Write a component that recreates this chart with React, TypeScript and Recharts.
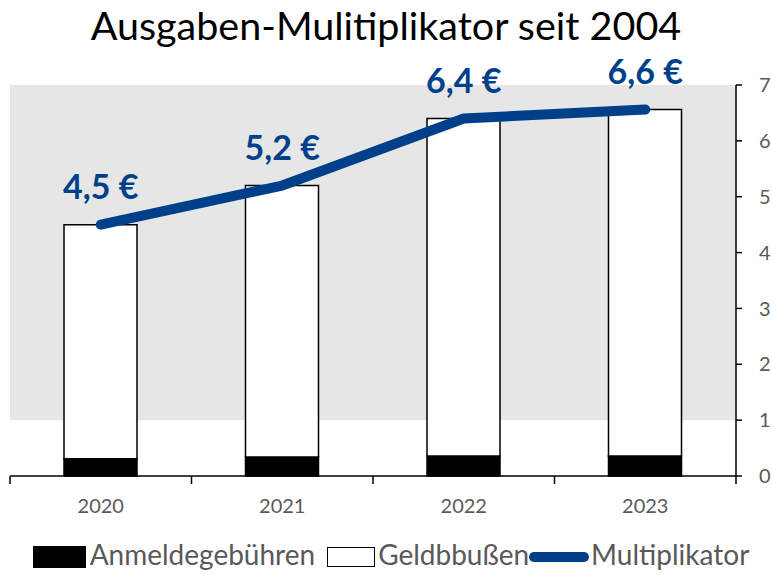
import * as React from "react";
import {
  ComposedChart,
  Bar,
  Line,
  XAxis,
  YAxis,
  Legend,
  LabelList,
  ReferenceArea,
} from "recharts";

const years = ["2020", "2021", "2022", "2023"];
const anmeldegebuehren = [0.31, 0.34, 0.36, 0.36];
const geldbussen = [4.19, 4.86, 6.04, 6.2];
const multiplikator = [4.5, 5.2, 6.4, 6.56];
const multiplikatorLabels = ["4,5 €", "5,2 €", "6,4 €", "6,6 €"];
const yTicks = [0, 1, 2, 3, 4, 5, 6, 7];

const BLUE = "#00408a";
const GREY_TEXT = "#595959";
const FONT = "Lato, 'Open Sans', sans-serif";

const data = years.map((year, i) => ({
  year,
  anmeldegebuehren: anmeldegebuehren[i],
  geldbussen: geldbussen[i],
  multiplikator: multiplikator[i],
  label: multiplikatorLabels[i],
}));

// value label above each point of the line
const PointLabel = (props: any) => {
  const { x, y, value } = props;
  return (
    <text
      x={x}
      y={y - 39}
      textAnchor="middle"
      dominantBaseline="central"
      fill={BLUE}
      fontSize={34}
      fontWeight={700}
      fontFamily={FONT}
    >
      {value}
    </text>
  );
};

// category label plus tick marks on the category boundaries (Excel style)
const YearTick = (props: any) => {
  const { x, y, payload, visibleTicksCount } = props;
  const half = payload?.offset || 90.75;
  const isLast = payload?.index === (visibleTicksCount ?? years.length) - 1;
  return (
    <g>
      <line x1={x - half} x2={x - half} y1={y} y2={y + 8} stroke="#000" strokeWidth={1.5} />
      {isLast && (
        <line x1={x + half} x2={x + half} y1={y} y2={y + 8} stroke="#000" strokeWidth={1.5} />
      )}
      <text
        x={x}
        y={y + 37}
        textAnchor="middle"
        fill={GREY_TEXT}
        fontSize={20}
        fontFamily={FONT}
      >
        {payload.value}
      </text>
    </g>
  );
};

const LegendContent = () => (
  <div
    style={{
      height: 45,
      display: "flex",
      justifyContent: "center",
      alignItems: "flex-start",
      fontFamily: FONT,
      fontSize: 28,
      color: GREY_TEXT,
      lineHeight: "28px",
      paddingTop: 10,
      boxSizing: "border-box",
      whiteSpace: "nowrap",
    }}
  >
    <span style={{ display: "flex", alignItems: "flex-start", marginRight: 12 }}>
      <span
        style={{ width: 53, height: 22, marginTop: 6, background: "#000", marginRight: 4 }}
      />
      Anmeldegebühren
    </span>
    <span style={{ display: "flex", alignItems: "flex-start" }}>
      <span
        style={{
          width: 48,
          height: 20,
          marginTop: 7,
          background: "#fff",
          border: "1.5px solid #000",
          marginRight: 3,
          boxSizing: "border-box",
        }}
      />
      Geldbbußen
    </span>
    <span style={{ display: "flex", alignItems: "flex-start" }}>
      <span
        style={{
          width: 60,
          height: 10,
          marginTop: 12,
          background: BLUE,
          borderRadius: 5,
          marginRight: 2,
        }}
      />
      Multiplikator
    </span>
  </div>
);

export default function App() {
  return (
    <div
      style={{
        position: "absolute",
        left: 0,
        top: 0,
        width: 772,
        height: 575,
        background: "#fff",
        overflow: "hidden",
      }}
    >
      <div
        style={{
          position: "absolute",
          top: 5,
          left: 0,
          width: 772,
          textAlign: "center",
          fontFamily: FONT,
          fontSize: 39.5,
          lineHeight: "40px",
          color: "#000",
          zIndex: 1,
          whiteSpace: "nowrap",
        }}
      >
        Ausgaben-Mulitiplikator seit 2004
      </div>
      <ComposedChart
        width={772}
        height={575}
        data={data}
        margin={{ top: 85, right: 0, left: 10, bottom: 0 }}
      >
        <XAxis
          xAxisId="cat"
          dataKey="year"
          axisLine={{ stroke: "#000", strokeWidth: 1.5 }}
          tickLine={false}
          tickSize={0}
          tickMargin={0}
          height={54}
          interval={0}
          tick={<YearTick />}
        />
        <YAxis
          yAxisId="r"
          orientation="right"
          domain={[0, 7]}
          ticks={yTicks}
          width={36}
          tickSize={6}
          tickMargin={17}
          axisLine={{ stroke: "#000", strokeWidth: 1.5 }}
          tickLine={{ stroke: "#000", strokeWidth: 1.5 }}
          tick={{ fill: GREY_TEXT, fontSize: 20, fontFamily: FONT, textAnchor: "start" }}
        />
        <ReferenceArea
          xAxisId="cat"
          yAxisId="r"
          y1={1}
          y2={7}
          fill="#e6e6e6"
          fillOpacity={1}
          stroke="none"
        />
        <Legend verticalAlign="bottom" height={45} content={<LegendContent />} />
        <Bar
          xAxisId="cat"
          yAxisId="r"
          dataKey="anmeldegebuehren"
          name="Anmeldegebühren"
          stackId="a"
          fill="#000"
          stroke="#000"
          strokeWidth={1.5}
          barSize={73}
          isAnimationActive={false}
        />
        <Bar
          xAxisId="cat"
          yAxisId="r"
          dataKey="geldbussen"
          name="Geldbbußen"
          stackId="a"
          fill="#fff"
          stroke="#000"
          strokeWidth={1.5}
          barSize={73}
          isAnimationActive={false}
        />
        <Line
          xAxisId="cat"
          yAxisId="r"
          type="linear"
          dataKey="multiplikator"
          name="Multiplikator"
          stroke={BLUE}
          strokeWidth={10}
          strokeLinecap="round"
          strokeLinejoin="round"
          dot={false}
          activeDot={false}
          isAnimationActive={false}
        >
          <LabelList dataKey="label" content={<PointLabel />} />
        </Line>
      </ComposedChart>
    </div>
  );
}
